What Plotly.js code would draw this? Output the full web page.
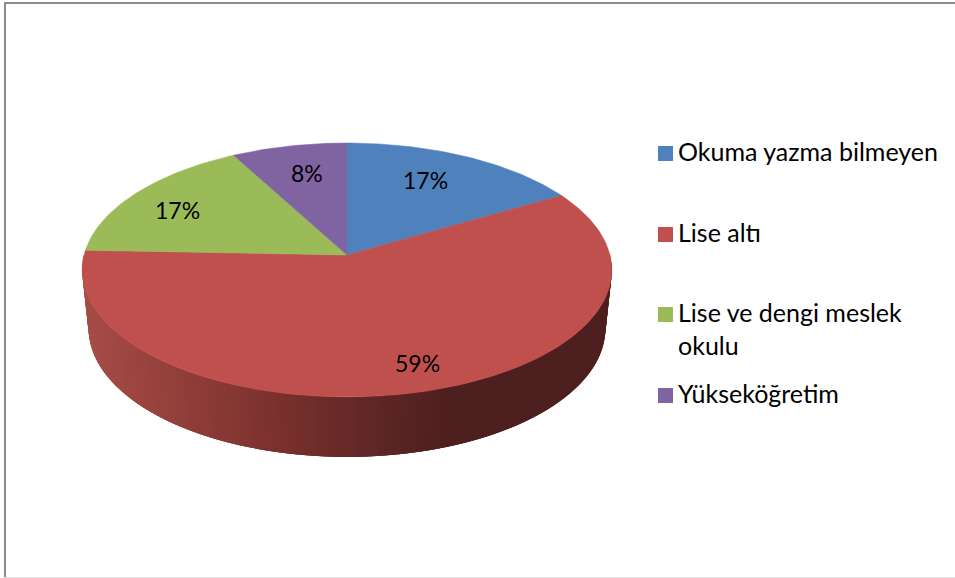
<!DOCTYPE html>
<html>
<head>
<meta charset="utf-8">
<script src="https://cdn.plot.ly/plotly-3.0.1.min.js"></script>
<style>html,body{margin:0;padding:0;background:#fff;overflow:hidden}#chart{width:955px;height:578px}</style>
</head>
<body>
<div id="chart"></div>
<script>
// Data
const categories = ["Okuma yazma bilmeyen", "Lise altı", "Lise ve dengi meslek<br>okulu", "Yükseköğretim"];
const values = [16.6, 59.0, 16.5, 7.9];
const sliceColors = ["#4F81BD", "#C0504D", "#9BBB59", "#8064A2"];

// Styling / placement
const FONT = "Lato, Carlito, 'Open Sans', sans-serif";
const legendY = [153.5, 234.5, 314.5, 395.5];
const legendTextY = [151, 232, 328, 393];
const labelPos = [[425.5, 179.5], [417.5, 362.5], [177.5, 209.5], [306.5, 172.5]];
const wallStopsX = [85, 200, 300, 350, 450, 612];
const wallStopsC = [[166,76,70], [141,59,55], [116,46,43], [101,41,39], [77,31,30], [77,31,30]];

// Perspective projection of the tilted disc
function project(t, rho, cx, cy, B, A, k) {
  const u = rho * Math.cos(t), s = rho * Math.sin(t), d = 1 + k * u;
  return [cx + B * s / d, cy - A * u / d];
}
const topRim = t => project(t, 1, 347, 255, 263, 125.2, 0.118);
const bottomRim = t => project(t, 1, 347, 315, 257, 127, 0.105);

function wallColor(x) {
  let i = 0;
  while (i < wallStopsX.length - 2 && x > wallStopsX[i + 1]) i++;
  const f = Math.max(0, Math.min(1, (x - wallStopsX[i]) / (wallStopsX[i + 1] - wallStopsX[i])));
  const c = wallStopsC[i].map((v, j) => Math.round(v + (wallStopsC[i + 1][j] - v) * f));
  return `rgb(${c[0]},${c[1]},${c[2]})`;
}

const traces = [];
// Side wall: strips along the front half of the rim, each overlapping the next
// so that no seams show between them. Drawn from the right end to the left.
const N = 120;
for (let i = 0; i < N; i++) {
  const a = Math.PI / 2 + Math.PI * i / N, b = Math.PI / 2 + Math.PI * Math.min(N, i + 3) / N;
  const m = Math.PI / 2 + Math.PI * (i + 0.5) / N;
  const p = [topRim(a), topRim(m), topRim(b), bottomRim(b), bottomRim(m), bottomRim(a), topRim(a)];
  const col = wallColor(topRim(m)[0]);
  traces.push({
    type: "scatter", mode: "lines", x: p.map(q => q[0]), y: p.map(q => q[1]),
    fill: "toself", fillcolor: col, line: {width: 0},
    hoverinfo: "skip", showlegend: false
  });
}
// Top face: one sector per category
const total = values.reduce((s, v) => s + v, 0);
let cum = 0;
values.forEach((v, i) => {
  const t0 = cum / total * 2 * Math.PI;
  cum += v;
  const t1 = cum / total * 2 * Math.PI;
  const xs = [347], ys = [255];
  const steps = Math.max(8, Math.ceil((t1 - t0) * 60));
  for (let j = 0; j <= steps; j++) {
    const p = topRim(t0 + (t1 - t0) * j / steps);
    xs.push(p[0]); ys.push(p[1]);
  }
  xs.push(347); ys.push(255);
  traces.push({
    type: "scatter", mode: "lines", x: xs, y: ys, fill: "toself",
    fillcolor: sliceColors[i], line: {color: sliceColors[i], width: 0.5},
    name: categories[i].replace("<br>", " "), hoverinfo: "name", showlegend: false
  });
});

const annotations = [];
values.forEach((v, i) => {
  annotations.push({
    x: labelPos[i][0], y: labelPos[i][1], xref: "x", yref: "y", showarrow: false,
    text: Math.round(v) + "%", font: {family: FONT, size: 23, color: "#000"},
    xanchor: "center", yanchor: "middle"
  });
  annotations.push({
    x: 676, y: legendTextY[i], xref: "x", yref: "y", showarrow: false,
    text: categories[i], align: "left", font: {family: FONT, size: 25, color: "#000"},
    xanchor: "left", yanchor: "middle"
  });
});

const shapes = [
  {type: "line", xref: "x", yref: "y", x0: 5, x1: 5, y0: 2, y1: 578, line: {color: "#8c8c8c", width: 2}},
  {type: "line", xref: "x", yref: "y", x0: 4, x1: 955, y0: 3, y1: 3, line: {color: "#8c8c8c", width: 2}},
  {type: "line", xref: "x", yref: "y", x0: 4, x1: 955, y0: 577.5, y1: 577.5, line: {color: "#dddddd", width: 1}}
];
legendY.forEach((y, i) => shapes.push({
  type: "rect", xref: "x", yref: "y", x0: 658, x1: 673, y0: y - 7.5, y1: y + 7.5,
  fillcolor: sliceColors[i], line: {width: 0}
}));

Plotly.newPlot("chart", traces, {
  width: 955, height: 578,
  margin: {l: 0, r: 0, t: 0, b: 0},
  paper_bgcolor: "#fff", plot_bgcolor: "#fff",
  xaxis: {range: [0, 955], visible: false, fixedrange: true},
  yaxis: {range: [578, 0], visible: false, fixedrange: true},
  showlegend: false, shapes, annotations, font: {family: FONT}
}, {displayModeBar: false, staticPlot: true});
</script>
</body>
</html>
